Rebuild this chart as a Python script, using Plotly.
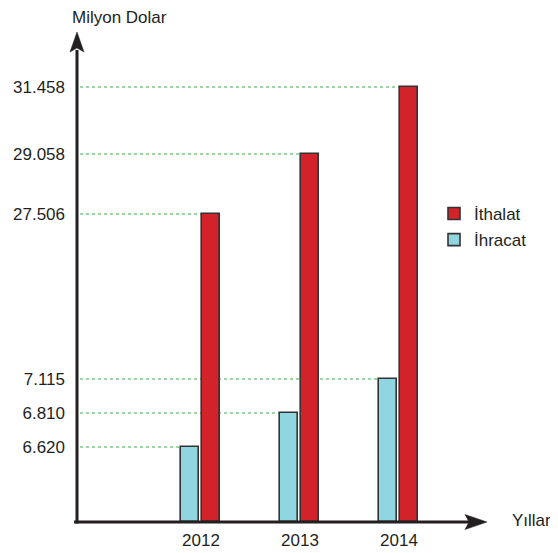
import numpy as np
import plotly.graph_objects as go

# ---- data ----
YEARS = [2012, 2013, 2014]
YEAR_LABELS = ["2012", "2013", "2014"]
ITHALAT = [27.506, 29.058, 31.458]   # milyon dolar
IHRACAT = [6.620, 6.810, 7.115]
TICK_VALUES = [6.620, 6.810, 7.115, 27.506, 29.058, 31.458]
TICK_LABELS = ["6.620", "6.810", "7.115", "27.506", "29.058", "31.458"]

# ---- schematic (broken) value axis: value -> drawn height ----
SCALE_VALUES = [0.0] + TICK_VALUES
SCALE_POS = [0, 75, 109, 143, 308, 368, 435]


def scale(v):
    return np.interp(v, SCALE_VALUES, SCALE_POS)


FONT = "Liberation Sans, Arial, sans-serif"
TXT = "#231f20"
RED = "#d2232a"
CYAN = "#8fd6e0"
EDGE = "#333333"
GREEN = "#3fae49"

BAR_W = 0.18
OFF_IHR = -0.20
OFF_ITH = 0.01
X_RANGE = [2010.747, 2014.889]
PX_PER_UNIT = 410 / (X_RANGE[1] - X_RANGE[0])

fig = go.Figure()
fig.add_trace(go.Bar(
    x=YEARS, y=scale(ITHALAT), name="İthalat", width=BAR_W, offset=OFF_ITH,
    marker=dict(color=RED, line=dict(color=EDGE, width=1.6)),
    legendgroup="a", hoverinfo="skip"))
fig.add_trace(go.Bar(
    x=YEARS, y=scale(IHRACAT), name="İhracat", width=BAR_W, offset=OFF_IHR,
    marker=dict(color=CYAN, line=dict(color=EDGE, width=1.6)),
    legendgroup="b", hoverinfo="skip"))

# dotted guide lines from the axis to the bar reaching each value
x_start = X_RANGE[0] + 3 / PX_PER_UNIT
for yr, v in zip(YEARS, IHRACAT):
    fig.add_shape(type="line", xref="x", yref="y", x0=x_start, x1=yr + OFF_IHR,
                  y0=scale(v), y1=scale(v), layer="below",
                  line=dict(color=GREEN, width=1, dash="dot"))
for yr, v in zip(YEARS, ITHALAT):
    fig.add_shape(type="line", xref="x", yref="y", x0=x_start, x1=yr + OFF_ITH,
                  y0=scale(v), y1=scale(v), layer="below",
                  line=dict(color=GREEN, width=1, dash="dot"))

# axes with arrows
fig.add_shape(type="line", xref="paper", yref="paper", x0=0, x1=0,
              y0=-1.5 / 490, y1=1 - 18 / 490, line=dict(color=TXT, width=3))
fig.add_shape(type="line", xref="paper", yref="paper", x0=-3 / 410, x1=1 - 18 / 410,
              y0=0, y1=0, line=dict(color=TXT, width=3))
fig.add_shape(type="path", xref="paper", yref="paper", xsizemode="pixel", ysizemode="pixel",
              xanchor=0, yanchor=1, path="M0,0 L7,-20 L0,-16 L-7,-20 Z",
              fillcolor=TXT, line=dict(color=TXT, width=0.5))
fig.add_shape(type="path", xref="paper", yref="paper", xsizemode="pixel", ysizemode="pixel",
              xanchor=1, yanchor=0, path="M0,0 L-22,7.5 L-18,0 L-22,-7.5 Z",
              fillcolor=TXT, line=dict(color=TXT, width=0.5))

fig.add_annotation(text="Milyon Dolar", xref="paper", yref="paper",
                   x=-7 / 410, y=1 + 15 / 490, xanchor="left", yanchor="middle",
                   showarrow=False, font=dict(size=17, color=TXT, family=FONT))
fig.add_annotation(text="Yıllar", xref="paper", yref="paper",
                   x=1 + 23 / 410, y=2 / 490, xanchor="left", yanchor="middle",
                   showarrow=False, font=dict(size=17, color=TXT, family=FONT))

# page body has an 8px margin: figure is 550x545 placed at (8, 8)
fig.update_layout(
    width=550, height=545,
    margin=dict(l=69, r=71, t=24, b=31, autoexpand=False),
    paper_bgcolor="white", plot_bgcolor="white",
    bargap=0,
    font=dict(family=FONT, size=17, color=TXT),
    showlegend=True,
    legend=dict(x=(434 - 77) / 410, y=(522 - 196) / 490, xanchor="left", yanchor="top",
                traceorder="grouped", tracegroupgap=1,
                font=dict(size=17, color=TXT, family=FONT), bgcolor="rgba(0,0,0,0)"),
    xaxis=dict(range=X_RANGE, tickvals=YEARS, ticktext=YEAR_LABELS, showgrid=False,
               zeroline=False, showline=False, ticks="", ticklabelstandoff=6,
               automargin=False, tickfont=dict(size=17, color=TXT, family=FONT)),
    yaxis=dict(range=[0, 490], tickvals=scale(TICK_VALUES), ticktext=TICK_LABELS,
               showgrid=False, zeroline=False, showline=False, ticks="",
               ticklabelstandoff=11, automargin=False,
               tickfont=dict(size=17, color=TXT, family=FONT)),
)

fig.write_html("out.html")
